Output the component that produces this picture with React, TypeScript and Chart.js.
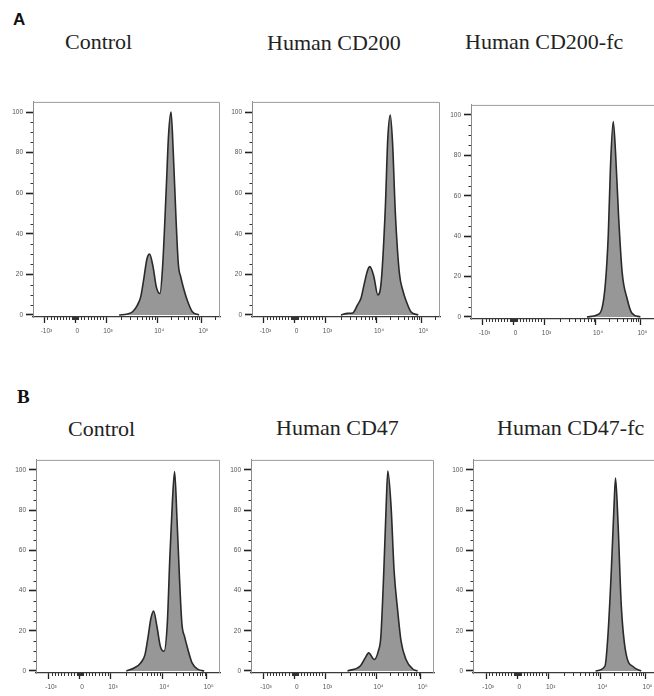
import React, { useEffect, useRef } from 'react';
import { Chart, LineController, LineElement, PointElement, LinearScale, Filler } from 'chart.js';

// ---------- axis ticks ----------
const X_MAJOR_TICKS = [-1000, 0, 1000, 10000, 100000];
const X_TICK_LABELS = ['-10³', '0', '10³', '10⁴', '10⁵'];
const X_MINOR_TICKS = [
  -900, -800, -700, -600, -500, -400, -300, -200, -100,
  -90, -80, -70, -60, -50, -40, -30, -20, -10,
  10, 20, 30, 40, 50, 60, 70, 80, 90,
  100, 200, 300, 400, 500, 600, 700, 800, 900,
  2000, 3000, 4000, 5000, 6000, 7000, 8000, 9000,
  20000, 30000, 40000, 50000, 60000, 70000, 80000, 90000, 200000,
];
const Y_MAJOR_TICKS = [0, 20, 40, 60, 80, 100];
const Y_MINOR_TICKS = [5, 10, 15, 25, 30, 35, 45, 50, 55, 65, 70, 75, 85, 90, 95];

// ---------- titles ----------
const TITLES = ['Control', 'Human CD200', 'Human CD200-fc', 'Control', 'Human CD47', 'Human CD47-fc'];

// ---------- histogram data (x = fluorescence intensity, y = % of max) ----------
const A_CONTROL_X = [1800, 2600, 3300, 4100, 4750, 5400, 6300, 7100, 8300, 9600, 11500, 13200, 16000, 18000, 20500, 23000, 26500, 30000, 34000, 40500, 49000, 62000, 88000];
const A_CONTROL_Y = [0, 0.5, 1.6, 4.9, 8.9, 17, 27.7, 30, 23.6, 13.8, 10.6, 23.6, 62.6, 88.6, 100, 80.5, 48, 25, 18.7, 12.2, 6.5, 1.6, 0];

const A_CD200_X = [2000, 2700, 3400, 4200, 4900, 5700, 6600, 7300, 8700, 10500, 12500, 15500, 17500, 20000, 22500, 26000, 32000, 38000, 46000, 58000, 85000];
const A_CD200_Y = [0, 0.8, 1, 5, 8.2, 15.6, 22, 23.8, 19, 9.9, 16.4, 53.4, 86.3, 98.5, 84.7, 50, 20.6, 12.3, 6.6, 1.6, 0];

const A_CD200FC_X = [6700, 10600, 13600, 16400, 19000, 21200, 24500, 27600, 32500, 39000, 50500, 64000, 100000];
const A_CD200FC_Y = [0, 1, 4, 17, 41, 73.6, 96.7, 81.7, 49, 21.8, 8.9, 2, 0];

const B_CONTROL_X = [2000, 2900, 3800, 4600, 5300, 6000, 6800, 7900, 9200, 11000, 13000, 14800, 17000, 19000, 21500, 24500, 27700, 32000, 38000, 47000, 64000, 88000];
const B_CONTROL_Y = [0, 1.6, 4, 8, 17, 26, 29.8, 22, 12.2, 9.8, 23.6, 56, 85, 99.2, 75.6, 46, 23.6, 17, 10.6, 4, 0.8, 0];

const B_CD47_X = [2700, 4800, 6000, 7000, 9000, 11000, 12500, 14600, 16500, 18000, 21300, 25000, 30100, 35800, 46400, 65800, 85000];
const B_CD47_Y = [0, 2.5, 6.5, 9, 5.7, 10, 17, 49.6, 82, 99.5, 82, 49.6, 30, 15, 5.7, 1, 0];

const B_CD47FC_X = [8000, 12500, 14500, 17300, 19900, 21500, 24400, 28800, 36600, 54000, 80000];
const B_CD47FC_Y = [0, 2.4, 17, 49.6, 82, 96, 74, 33, 9, 2, 0];

// ---------- biexponential-like display transform ----------
function tf(v: number): number {
  const a = Math.abs(v);
  let t: number;
  if (a <= 1000) t = a / 1000;
  else if (a <= 10000) t = 1 + 1.66 * Math.log10(a / 1000);
  else t = 2.66 + 1.435 * Math.log10(a / 10000);
  return v < 0 ? -t : t;
}
function tfInv(t: number): number {
  const a = Math.abs(t);
  let v: number;
  if (a <= 1) v = a * 1000;
  else if (a <= 2.66) v = 1000 * Math.pow(10, (a - 1) / 1.66);
  else v = 10000 * Math.pow(10, (a - 2.66) / 1.435);
  return t < 0 ? -v : v;
}

class BiexScale extends LinearScale {
  static id = 'biex';
  static defaults = LinearScale.defaults;
  buildTicks(): any {
    return X_MAJOR_TICKS.map((v) => ({ value: v }));
  }
  getPixelForValue(value: any): number {
    if (value === null || value === undefined || isNaN(value)) return NaN;
    const t0 = tf(this.min), t1 = tf(this.max);
    return this.getPixelForDecimal((tf(value) - t0) / (t1 - t0));
  }
  getValueForPixel(pixel: number): number {
    const t0 = tf(this.min), t1 = tf(this.max);
    return tfInv(t0 + this.getDecimalForPixel(pixel) * (t1 - t0));
  }
}

Chart.register(LineController, LineElement, PointElement, LinearScale, Filler, BiexScale as any);

const decorPlugin = {
  id: 'decor',
  afterDraw(chart: any) {
    const { ctx, chartArea: a, scales } = chart;
    const x = scales.x, y = scales.y;
    ctx.save();
    ctx.strokeStyle = '#9c9c9c';
    ctx.lineWidth = 1;
    ctx.beginPath();
    ctx.moveTo(a.left, a.top + 0.5);
    ctx.lineTo(a.right - 0.5, a.top + 0.5);
    ctx.lineTo(a.right - 0.5, a.bottom);
    ctx.stroke();
    ctx.strokeStyle = '#333';
    ctx.beginPath();
    for (const v of X_MINOR_TICKS) {
      const px = Math.round(x.getPixelForValue(v)) + 0.5;
      if (px < a.left || px > a.right) continue;
      ctx.moveTo(px, a.bottom);
      ctx.lineTo(px, a.bottom + 3);
    }
    for (const v of Y_MINOR_TICKS) {
      const py = Math.round(y.getPixelForValue(v)) + 0.5;
      ctx.moveTo(a.left - 2.5, py);
      ctx.lineTo(a.left, py);
    }
    ctx.stroke();
    ctx.restore();
  },
};

type PanelCfg = {
  xs: number[]; ys: number[];
  L: number; T: number; R: number; B: number;
  xMin: number; xMax: number;
};

const PANELS: PanelCfg[] = [
  { xs: A_CONTROL_X, ys: A_CONTROL_Y, L: 33, T: 99, R: 220, B: 317, xMin: -1671, xMax: 262144 },
  { xs: A_CD200_X, ys: A_CD200_Y, L: 252, T: 99, R: 440, B: 317, xMin: -1671, xMax: 262144 },
  { xs: A_CD200FC_X, ys: A_CD200FC_Y, L: 471, T: 102, R: 659, B: 319, xMin: -1671, xMax: 262144 },
  { xs: B_CONTROL_X, ys: B_CONTROL_Y, L: 36, T: 457, R: 220, B: 673, xMin: -1791, xMax: 200000 },
  { xs: B_CD47_X, ys: B_CD47_Y, L: 251, T: 457, R: 434, B: 673, xMin: -1791, xMax: 200000 },
  { xs: B_CD47FC_X, ys: B_CD47FC_Y, L: 473, T: 457, R: 659, B: 673, xMin: -1791, xMax: 200000 },
];

const TITLE_POS = [
  { left: 65, top: 31 },
  { left: 267, top: 32 },
  { left: 465, top: 31 },
  { left: 68, top: 418 },
  { left: 276, top: 417 },
  { left: 497, top: 417 },
];

function Panel({ cfg }: { cfg: PanelCfg }) {
  const ref = useRef<HTMLCanvasElement>(null);
  const w = cfg.R - cfg.L + 38;
  const h = cfg.B - cfg.T + 26;
  useEffect(() => {
    const tickFont = { family: 'Liberation Sans', size: 6.5 };
    const chart = new Chart(ref.current as HTMLCanvasElement, {
      type: 'line',
      data: {
        datasets: [
          {
            data: cfg.xs.map((x, i) => ({ x, y: cfg.ys[i] })),
            borderColor: '#2a2a2a',
            borderWidth: 1.6,
            backgroundColor: '#979797',
            fill: 'origin',
            pointRadius: 0,
            cubicInterpolationMode: 'monotone',
          },
        ],
      },
      options: {
        animation: false,
        responsive: false,
        events: [],
        layout: { padding: { left: 0, right: 6, top: 4, bottom: 0 } },
        plugins: { legend: { display: false }, tooltip: { enabled: false } },
        scales: {
          x: {
            type: 'biex' as any,
            min: cfg.xMin,
            max: cfg.xMax,
            afterFit: (s: any) => { s.height = 22; },
            grid: { display: true, drawOnChartArea: false, drawTicks: true, tickLength: 6, tickColor: '#222', tickWidth: 1.3 },
            border: { display: true, color: '#3a3a3a', width: 1.2 },
            ticks: {
              autoSkip: false,
              maxRotation: 0,
              padding: 4,
              labelOffset: 2,
              color: '#555',
              font: tickFont,
              callback: (v: any) => {
                const i = X_MAJOR_TICKS.indexOf(Number(v));
                return i >= 0 ? X_TICK_LABELS[i] : '';
              },
            },
          } as any,
          y: {
            type: 'linear',
            min: -1,
            max: 105,
            afterFit: (s: any) => { s.width = 32; },
            afterBuildTicks: (s: any) => { s.ticks = Y_MAJOR_TICKS.map((v) => ({ value: v })); },
            grid: { display: true, drawOnChartArea: false, drawTicks: true, tickLength: 7, tickColor: '#222', tickWidth: 1.6 },
            border: { display: true, color: '#8a8a8a', width: 1 },
            ticks: {
              padding: 3,
              color: '#555',
              font: tickFont,
              callback: (v: any) => String(v),
            },
          },
        },
      },
      plugins: [decorPlugin],
    } as any);
    return () => chart.destroy();
  }, []);
  return (
    <canvas
      ref={ref}
      width={w}
      height={h}
      style={{ position: 'absolute', left: cfg.L - 32, top: cfg.T - 4, width: w, height: h }}
    />
  );
}

export default function App() {
  return (
    <div style={{ position: 'fixed', left: 0, top: 0, width: 654, height: 696, overflow: 'hidden', background: '#fff' }}>
      <div style={{ position: 'absolute', left: 13, top: 10.6, font: 'bold 17px "Liberation Sans"', lineHeight: 1, color: '#111' }}>A</div>
      <div style={{ position: 'absolute', left: 17, top: 387, font: 'bold 19px "Liberation Serif"', lineHeight: 1, color: '#111' }}>B</div>
      {TITLES.map((t, i) => (
        <div
          key={i}
          style={{
            position: 'absolute',
            left: TITLE_POS[i].left,
            top: TITLE_POS[i].top,
            font: '22px "Liberation Serif"',
            lineHeight: 1,
            color: '#222',
            whiteSpace: 'nowrap',
          }}
        >
          {t}
        </div>
      ))}
      {PANELS.map((p, i) => (
        <Panel key={i} cfg={p} />
      ))}
    </div>
  );
}
